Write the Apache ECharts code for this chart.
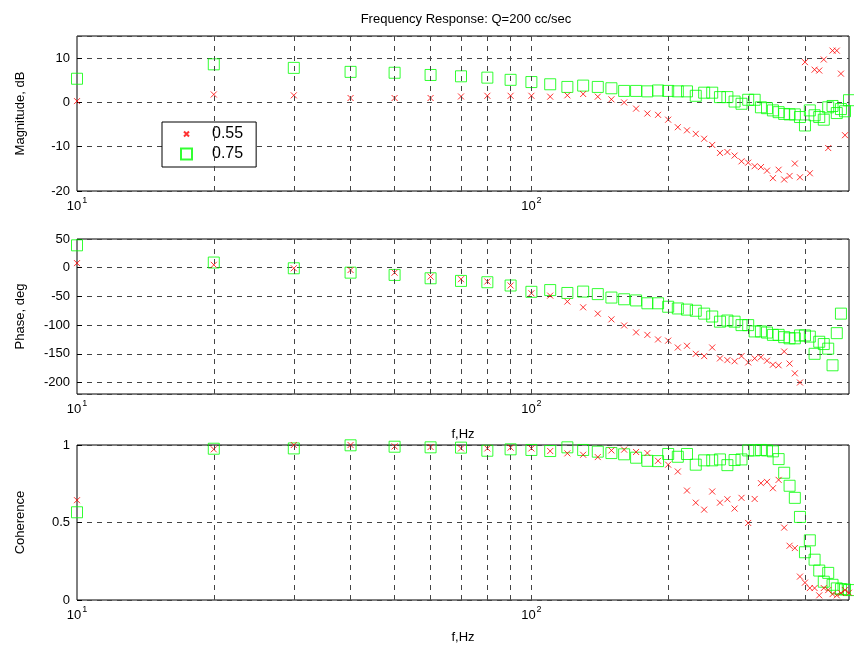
<!DOCTYPE html>
<html><head><meta charset="utf-8">
<script src="https://cdn.jsdelivr.net/npm/echarts@6/dist/echarts.min.js"></script>
<style>html,body{margin:0;padding:0;background:#fff}#c{width:854px;height:650px}</style>
</head><body><div id="c"></div>
<script>
// Frequencies, Hz
const freqs = [10,20,30,40,50,60,70,80,90,
  100,110,120,130,140,150,160,170,180,190,
  200,210,220,230,240,250,260,270,280,290,
  300,310,320,330,340,350,360,370,380,390,
  400,410,420,430,440,450,460,470,480,490,500];
const seriesNames = ['0.55', '0.75'];
// Magnitude, dB
const magA = [0.3,1.8,1.6,1.0,1.0,1.0,1.35,1.5,1.5,
  1.5,1.3,1.6,1.9,1.3,0.7,0,-1.4,-2.5,-2.8,
  -3.9,-5.6,-6.3,-7.1,-8.2,-9.6,-11.4,-11.2,-12,-13.3,
  -13.6,-14.4,-14.6,-15.4,-17.1,-15.2,-17.4,-16.6,-13.8,-16.9,
  9.1,-16,7.4,7.2,9.7,-10.3,11.7,11.7,6.5,-7.4,null];
const magB = [5.35,8.6,7.8,6.9,6.7,6.2,5.9,5.6,5.1,
  4.6,4.1,3.5,3.8,3.5,3.2,2.6,2.6,2.5,2.7,
  2.6,2.5,2.5,1.5,2.2,2.2,1.2,1.2,0.2,-0.3,
  0.6,0.6,-1.1,-1.3,-1.8,-2.2,-2.6,-2.7,-2.7,-3.3,
  -5.2,-1.8,-2.9,-3.3,-3.9,-1.1,-0.8,-2.4,-1.5,-2.0,0.5];
// Phase, deg
const phaseA = [8,5,-1,-4,-8.6,-15.5,-20,-24,-31,
  -44.5,-48.6,-59,-69,-80,-90,-100.6,-112.7,-117,-125,
  -127,-139,-136,-150,-154,-139,-158,-161,-163,-154,
  -165,-158,-156,-162,-169,-170,-146,-167,-184,-200,
  null,null,null,null,null,null,null,null,null,null,null];
const phaseB = [39,9,-1,-8.6,-12.6,-18.4,-23,-25.3,-31,
  -42,-39,-44,-41.6,-46,-52,-55,-57,-62,-62,
  -68,-71,-73,-75,-80,-85,-94,-92,-94,-100,
  -100,-111,-111,-113,-117,-117,-121,-123,-123,-118,
  -118,-120,-150,-129,-133,-141,-170,-114,-80,null,null];
// Coherence
const cohA = [0.644,0.972,1.0,1.0,0.991,0.987,0.978,0.978,0.983,
  0.978,0.961,0.946,0.937,0.922,0.965,0.970,0.955,0.948,0.898,
  0.873,0.829,0.706,0.628,0.583,0.700,0.628,0.650,0.590,0.659,
  0.497,0.652,0.754,0.762,0.721,0.775,0.467,0.35,0.335,0.151,
  0.112,0.077,0.077,0.03,0.077,0.064,0.038,0.03,0.045,0.064,0.047];
const cohB = [0.566,0.976,0.978,0.998,0.989,0.985,0.983,0.963,0.972,
  0.968,0.961,0.985,0.968,0.957,0.948,0.940,0.918,0.898,0.896,
  0.942,0.924,0.942,0.873,0.901,0.901,0.907,0.870,0.903,0.907,
  0.965,0.965,0.968,0.965,0.959,0.909,0.821,0.737,0.659,0.536,
  0.308,0.385,0.26,0.19,0.118,0.175,0.098,0.075,0.07,0.068,0.064];
// Vertical grid positions (log decades)
const xGrid = [20,30,40,50,60,70,80,90,100,200,300,400];
const yTitles = ['Magnitude, dB', 'Phase, deg', 'Coherence'];
const chartTitle = 'Frequency Response: Q=200 cc/sec';
const xName = 'f,Hz';

const FONT = 'Liberation Sans, Arial, sans-serif';
function pairs(ys){ const out=[]; freqs.forEach((f,i)=>{ if(ys[i]!==null) out.push([f, ys[i]]); }); return out; }
function xfmt(v){ const e=Math.log10(v), r=Math.round(e); return Math.abs(e-r)<1e-6 ? '{b|10}{sup|'+r+'}' : ''; }

const grids = [
  {left:77, top:36, width:772, height:155},
  {left:77, top:239, width:772, height:155},
  {left:77, top:445, width:772, height:155}
].map(g=>Object.assign(g,{show:true, borderColor:'#000', borderWidth:1, backgroundColor:'#fff'}));

const nameGaps = [0, 34, 31];
const xAxes = [0,1,2].map(i=>({
  type:'log', logBase:10, gridIndex:i, min:10, max:500,
  name: i>0 ? xName : '', nameLocation:'middle', nameGap:nameGaps[i],
  nameTextStyle:{fontFamily:FONT, fontSize:13, color:'#000'},
  axisLine:{show:false}, axisTick:{show:false}, splitLine:{show:false},
  axisLabel:{formatter:xfmt, margin:5, color:'#000', fontFamily:FONT,
    rich:{b:{fontSize:13, fontFamily:FONT, color:'#000', verticalAlign:'bottom'},
          sup:{fontSize:9, fontFamily:FONT, color:'#000', verticalAlign:'bottom', padding:[0,0,8,1]}}}
}));

const yCommon = {
  nameLocation:'middle', nameRotate:90,
  nameTextStyle:{fontFamily:FONT, fontSize:13, color:'#000'},
  axisLine:{show:false}, axisTick:{show:true, inside:true, length:5, lineStyle:{color:'#000'}},
  axisLabel:{color:'#000', fontFamily:FONT, fontSize:13, margin:7},
  splitLine:{show:true, lineStyle:{color:'#444', type:[5,5], width:1}}
};
const yAxes = [
  Object.assign({}, yCommon, {gridIndex:0, type:'value', min:-20, max:15, interval:10, name:yTitles[0], nameGap:50,
     axisLabel:Object.assign({}, yCommon.axisLabel, {showMaxLabel:false})}),
  Object.assign({}, yCommon, {gridIndex:1, type:'value', min:-220, max:50, splitNumber:5, name:yTitles[1], nameGap:50,
     axisLabel:Object.assign({}, yCommon.axisLabel, {showMinLabel:false})}),
  Object.assign({}, yCommon, {gridIndex:2, type:'value', min:0, max:1, interval:0.5, name:yTitles[2], nameGap:50})
];

const xMark = {
  silent:true, symbol:['none','none'], animation:false,
  label:{show:false},
  lineStyle:{color:'#444', type:[5,5], width:1},
  data: xGrid.map(v=>({xAxis:v}))
};
const styleA = {symbol:'path://M0 0L10 10M10 0L0 10', symbolSize:6,
  itemStyle:{color:'#ff0000', borderColor:'#ff0000', borderWidth:1}};
const styleB = {symbol:'rect', symbolSize:11,
  itemStyle:{color:'rgba(0,0,0,0)', borderColor:'#00ff00', borderWidth:1}};
const dataSets = [[magA, magB],[phaseA, phaseB],[cohA, cohB]];
const series = [];
dataSets.forEach((pair,i)=>{
  series.push(Object.assign({type:'scatter', name:seriesNames[0], xAxisIndex:i, yAxisIndex:i, data:pairs(pair[0]),
    markLine:xMark, emphasis:{disabled:true}, z:3}, styleA));
  series.push(Object.assign({type:'scatter', name:seriesNames[1], xAxisIndex:i, yAxisIndex:i, data:pairs(pair[1]),
    emphasis:{disabled:true}, z:2}, styleB));
});

const chart = echarts.init(document.getElementById('c'), null, {renderer:'canvas'});
chart.setOption({
  animation:false,
  backgroundColor:'#fff',
  title:{text:chartTitle, left:461, textAlign:'center', top:8,
    textStyle:{fontFamily:FONT, fontSize:13, fontWeight:'normal', color:'#000'}},
  legend:{data:[
      {name:seriesNames[0], icon:'path://M0 0M11 11M3 3L8 8M8 3L3 8'},
      {name:seriesNames[1], icon:'rect'}],
    orient:'vertical', left:162, top:122,
    backgroundColor:'#fff', borderColor:'#000', borderWidth:1, borderRadius:0,
    padding:[4,13,5,18], itemGap:4, itemWidth:11, itemHeight:11,
    textStyle:{fontFamily:FONT, fontSize:16, color:'#000', padding:[0,0,0,15]},
    selectedMode:false},
  grid:grids, xAxis:xAxes, yAxis:yAxes, series:series
});
</script></body></html>
